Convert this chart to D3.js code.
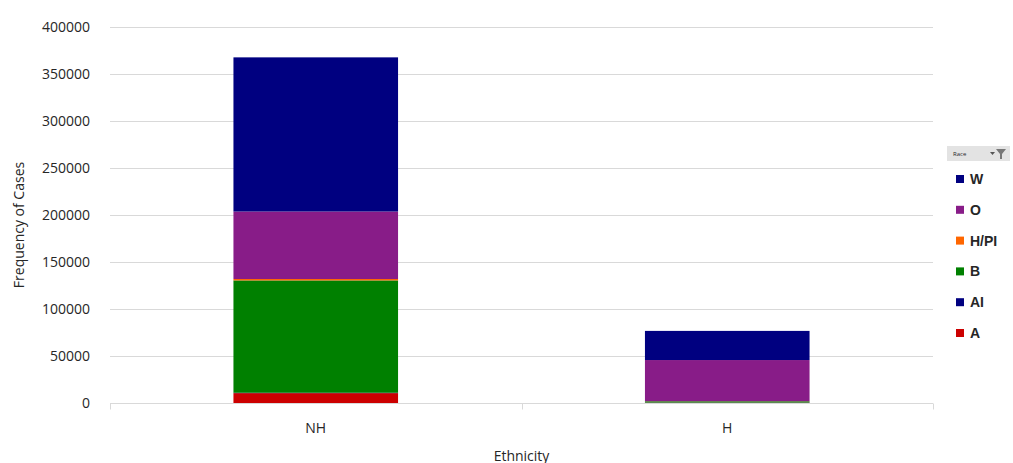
<!DOCTYPE html>
<html>
<head>
<meta charset="utf-8">
<script src="https://cdn.jsdelivr.net/npm/d3@7"></script>
<style>
body { margin: 0; background: #fff; }
text { font-family: "Open Sans", sans-serif; fill: #262626; }
</style>
</head>
<body>
<svg width="1013" height="463"></svg>
<script>
var categories = ["NH", "H"];
var races = ["A", "AI", "B", "H/PI", "O", "W"];
var colors = ["#cc0000", "#000080", "#008000", "#ff6600", "#881c88", "#000080"];
// values per race, in category order (NH, H)
var A = [10500, 300];
var AI = [400, 200];
var B = [119500, 1300];
var HPI = [1500, 100];
var O = [71800, 43800];
var W = [164000, 31000];
var yTicks = [0, 50000, 100000, 150000, 200000, 250000, 300000, 350000, 400000];

var series = [A, AI, B, HPI, O, W];
var table = categories.map(function(c, i) {
    var row = { cat: c };
    races.forEach(function(r, j) { row[r] = series[j][i]; });
    return row;
});

var svg = d3.select("svg");
var plotLeft = 110, plotRight = 933, plotTop = 27, plotBottom = 403;

var xScale = d3.scaleBand().domain(categories).range([plotLeft, plotRight]).paddingInner(0.6).paddingOuter(0.3);
var yScale = d3.scaleLinear().domain([0, 400000]).range([plotBottom, plotTop]);

// gridlines
svg.append("g")
    .selectAll("line")
    .data(yTicks.slice(1))
    .enter()
    .append("line")
    .attr("x1", plotLeft)
    .attr("x2", plotRight)
    .attr("y1", (d) => yScale(d) + 0.5)
    .attr("y2", (d) => yScale(d) + 0.5)
    .attr("stroke", "#d9d9d9");

var yAxis = svg.append("g")
    .attr("transform", "translate(" + plotLeft + ",0)")
    .call(d3.axisLeft(yScale).tickValues(yTicks).tickFormat(d3.format("d")).tickSize(0).tickPadding(20));
yAxis.select(".domain").remove();
yAxis.selectAll("text").style("font-size", "14px").attr("fill", "#404040");

var stack = d3.stack().keys(races)(table);

svg.append("g")
    .selectAll("g")
    .data(stack)
    .enter()
    .append("g")
    .attr("fill", (d, i) => colors[i])
    .selectAll("rect")
    .data((d) => d)
    .enter()
    .append("rect")
    .attr("x", (d) => xScale(d.data.cat))
    .attr("y", (d) => yScale(d[1]))
    .attr("width", xScale.bandwidth())
    .attr("height", (d) => yScale(d[0]) - yScale(d[1]));

// bottom axis
var xAxis = svg.append("g")
    .attr("transform", "translate(0," + (plotBottom + 0.5) + ")");
xAxis.append("line")
    .attr("x1", plotLeft).attr("x2", plotRight)
    .attr("stroke", "#d9d9d9");
var bounds = [plotLeft, (plotLeft + plotRight) / 2, plotRight];
xAxis.selectAll(".tk")
    .data(bounds)
    .enter()
    .append("line")
    .attr("x1", (d) => Math.round(d) + 0.5)
    .attr("x2", (d) => Math.round(d) + 0.5)
    .attr("y1", 0).attr("y2", 6)
    .attr("stroke", "#d9d9d9");
xAxis.selectAll("text")
    .data(categories)
    .enter()
    .append("text")
    .attr("x", (d) => xScale(d) + xScale.bandwidth() / 2)
    .attr("y", 29)
    .attr("text-anchor", "middle")
    .style("font-size", "14px")
    .text((d) => d);

svg.append("text")
    .attr("x", (plotLeft + plotRight) / 2)
    .attr("y", 461)
    .attr("text-anchor", "middle")
    .style("font-size", "14px")
    .text("Ethnicity");

svg.append("text")
    .attr("transform", "translate(24,225) rotate(-90)")
    .attr("text-anchor", "middle")
    .style("font-size", "14px")
    .text("Frequency of Cases");

// legend
var lg = svg.append("g").attr("transform", "translate(947,146)");
lg.append("rect")
    .attr("width", 63).attr("height", 15)
    .attr("fill", "#e3e3e3");
lg.append("text")
    .attr("x", 6).attr("y", 10)
    .style("font-size", "6px")
    .attr("fill", "#555")
    .text("Race");
lg.append("path")
    .attr("d", "M43,6 L48,6 L45.5,9 Z")
    .attr("fill", "#555");
lg.append("path")
    .attr("d", "M49,3 L59,3 L55,8 L55,13 L53,13 L53,8 Z")
    .attr("fill", "#777");

var order = races.slice().reverse();
var items = lg.selectAll(".item")
    .data(order)
    .enter()
    .append("g")
    .attr("transform", (d, i) => "translate(9," + (29 + i * 30.8) + ")");
items.append("rect")
    .attr("width", 8).attr("height", 8)
    .attr("fill", (d) => colors[races.indexOf(d)]);
items.append("text")
    .attr("x", 14).attr("y", 9)
    .style("font-size", "14px")
    .style("font-family", "'Liberation Sans', Arial, sans-serif")
    .style("font-weight", "bold")
    .attr("fill", "#222")
    .text((d) => d);
</script>
</body>
</html>
